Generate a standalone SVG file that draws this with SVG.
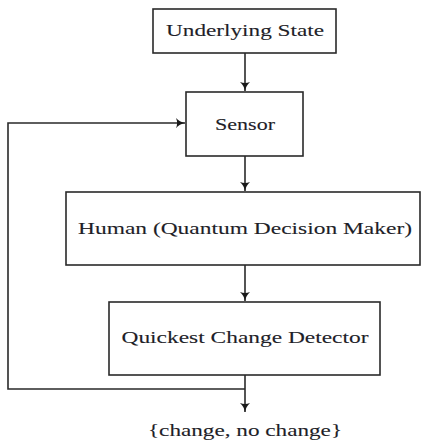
<svg xmlns="http://www.w3.org/2000/svg" width="421" height="441" viewBox="0 0 421 441">
<defs>
<style>
.box{fill:#fff;stroke:#2a2a2a;stroke-width:1.6}
.lbl{font-family:"Liberation Serif","DejaVu Serif",serif;font-size:16.5px;fill:#1e1e28;stroke:#1e1e28;stroke-width:0.1;text-anchor:middle}
.edge{fill:none;stroke:#2a2a2a;stroke-width:1.6}
</style>
<marker id="ah" markerWidth="12" markerHeight="12" refX="9" refY="6" orient="auto" markerUnits="userSpaceOnUse">
<path d="M0,1 Q3.5,5 9,6 Q3.5,7 0,11 Q2.2,6 0,1 Z" fill="#1a1a1a"/>
</marker>
</defs>
<rect width="421" height="441" fill="#fff"/>
<g id="connectors">
<path class="edge" d="M245,53 V91" marker-end="url(#ah)"/>
<path class="edge" d="M245,156 V191" marker-end="url(#ah)"/>
<path class="edge" d="M245,265 V301" marker-end="url(#ah)"/>
<path class="edge" d="M245,375 V412" marker-end="url(#ah)"/>
<path class="edge" d="M245,389 H8 V123 H185" marker-end="url(#ah)"/>
</g>
<g id="underlying">
<rect class="box" x="153" y="9" width="183" height="44"/>
<text class="lbl" x="245" y="36" textLength="158" lengthAdjust="spacingAndGlyphs">Underlying State</text>
</g>
<g id="sensor">
<rect class="box" x="186" y="92" width="117" height="64"/>
<text class="lbl" x="245" y="130" textLength="60" lengthAdjust="spacingAndGlyphs">Sensor</text>
</g>
<g id="human">
<rect class="box" x="66" y="192" width="354" height="73"/>
<text class="lbl" x="245" y="234" textLength="334" lengthAdjust="spacingAndGlyphs">Human (Quantum Decision Maker)</text>
</g>
<g id="detector">
<rect class="box" x="109" y="302" width="271" height="73"/>
<text class="lbl" x="245" y="343" textLength="247" lengthAdjust="spacingAndGlyphs">Quickest Change Detector</text>
</g>
<g id="output">
<text class="lbl" x="245" y="436" textLength="194" lengthAdjust="spacingAndGlyphs">{change, no change}</text>
</g>
</svg>
